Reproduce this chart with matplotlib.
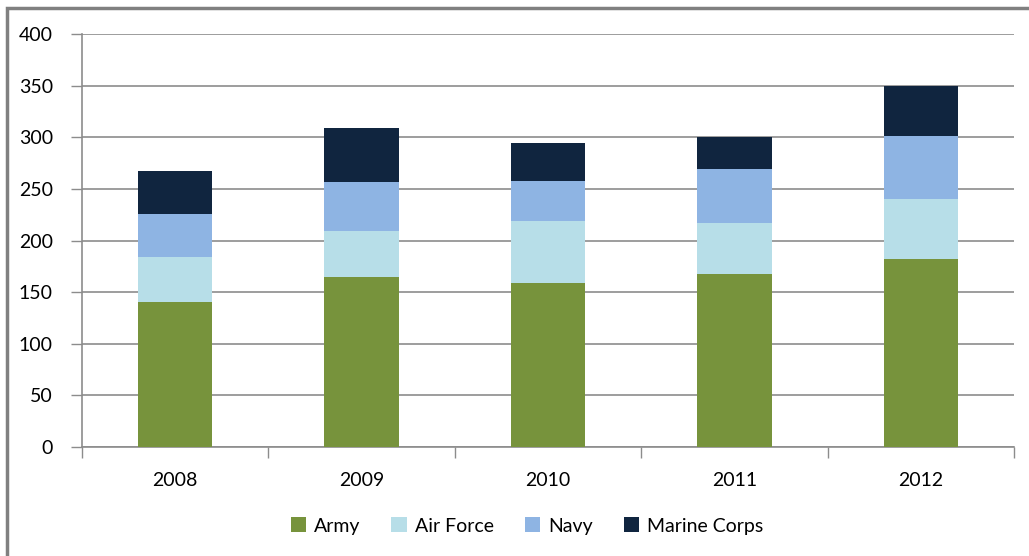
import numpy as np
import matplotlib.pyplot as plt
from matplotlib.patches import Rectangle

years = ['2008', '2009', '2010', '2011', '2012']
army = [140, 165, 159, 168, 182]
air_force = [44, 44, 60, 49, 58]
navy = [42, 48, 39, 52, 61]
marine_corps = [41, 52, 36, 31, 49]

series = [('Army', army, '#77933C'),
          ('Air Force', air_force, '#B7DEE8'),
          ('Navy', navy, '#8EB4E3'),
          ('Marine Corps', marine_corps, '#10253F')]

plt.rcParams['font.family'] = ['Lato', 'DejaVu Sans']

fig = plt.figure(figsize=(10.29, 5.56), dpi=100)
ax = fig.add_axes([82/1029, 1 - 447/556, (1014-82)/1029, (447-34)/556])

x = np.arange(len(years))
bottom = np.zeros(len(years))
for name, vals, color in series:
    ax.bar(x, vals, width=0.4, bottom=bottom, color=color, label=name, zorder=3)
    bottom += np.array(vals)

ax.set_xlim(-0.5, len(years) - 0.5)
ax.set_ylim(0, 400)
ax.set_yticks(range(0, 401, 50))
ax.yaxis.grid(True, color='#8c8c8c', linewidth=1.2, zorder=0)
ax.tick_params(axis='y', length=8, width=1, color='#8c8c8c', labelsize=14, pad=13)

ax.set_xticks(x)
ax.set_xticklabels(years)
ax.tick_params(axis='x', length=0, labelsize=14, pad=18)
ax.set_xticks(np.arange(-0.5, len(years)), minor=True)
ax.tick_params(axis='x', which='minor', length=8, width=1, color='#8c8c8c')

for s in ['top', 'right']:
    ax.spines[s].set_visible(False)
for s in ['left', 'bottom']:
    ax.spines[s].set_color('#8c8c8c')
    ax.spines[s].set_linewidth(1.2)

fig.legend(loc='center', bbox_to_anchor=(527/1029, 1 - 526/556), ncol=4, frameon=False,
           fontsize=14, handlelength=0.8, handleheight=0.8, handletextpad=0.4, columnspacing=1.6)

fig.patches.append(Rectangle((7/1029, -0.1), 1.2, 1 - 8/556 + 0.1, transform=fig.transFigure,
                             fill=False, edgecolor='#808080', linewidth=2.5))

fig.savefig('out.png', dpi=100)
